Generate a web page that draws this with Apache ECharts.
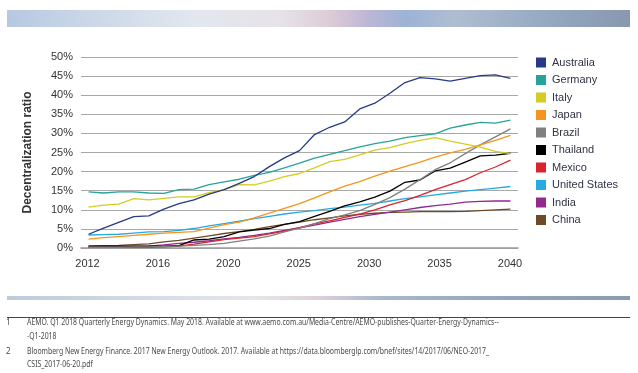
<!DOCTYPE html>
<html>
<head>
<meta charset="utf-8">
<script src="https://cdn.jsdelivr.net/npm/echarts@6/dist/echarts.min.js"></script>
<style>
html,body{margin:0;padding:0;background:#fff;}
#c{width:638px;height:373px;}
</style>
</head>
<body>
<div id="c"></div>
<script>
const years = [];
for (let y = 2012; y <= 2040; y++) years.push(String(y));
const xTickLabels = ["2012", "2016", "2020", "2025", "2030", "2035", "2040"];
const yAxisTitle = "Decentralization ratio";

const australia = [3.6,5.2,6.7,8.2,8.4,10.2,11.6,12.6,14.1,15.3,16.9,18.7,21.3,23.6,25.5,29.7,31.6,33.0,36.4,37.9,40.5,43.3,44.6,44.3,43.7,44.4,45.1,45.3,44.4];
const germany   = [14.7,14.4,14.7,14.7,14.4,14.3,15.3,15.4,16.6,17.3,18.0,19.0,19.8,21.0,22.2,23.5,24.5,25.5,26.5,27.3,28.0,28.9,29.4,29.9,31.4,32.2,32.9,32.7,33.5];
const italy     = [10.7,11.2,11.5,12.9,12.6,13.0,13.4,13.4,14.5,15.3,16.6,16.5,17.5,18.7,19.5,21.0,22.6,23.2,24.4,25.6,26.3,27.3,28.2,28.9,28.0,27.2,26.4,25.3,24.7];
const japan     = [2.3,2.7,3.0,3.3,3.6,3.9,4.1,4.3,5.2,6.1,6.8,7.9,9.1,10.4,11.6,13.1,14.7,16.2,17.4,18.8,20.1,21.3,22.5,23.8,24.9,25.8,27.0,28.2,29.5];
const brazil    = [0.2,0.2,0.2,0.3,0.3,0.4,0.5,0.7,0.9,1.2,1.8,2.4,3.1,4.2,5.2,6.4,7.7,8.7,9.8,11.4,13.2,15.4,17.9,20.5,22.3,24.7,27.0,29.1,31.2];
const thailand  = [0.5,0.5,0.5,0.5,0.5,0.5,0.6,2.1,2.3,3.0,4.2,4.7,5.1,6.2,6.9,8.3,9.6,11.0,12.1,13.3,14.9,17.2,17.8,20.2,20.9,22.5,24.1,24.3,24.8];
const mexico    = [0.2,0.2,0.2,0.2,0.2,0.3,0.5,1.0,1.6,2.2,2.6,3.0,3.7,4.4,5.3,6.3,7.1,8.0,8.9,10.0,11.3,12.4,13.8,15.3,16.6,17.9,19.7,21.2,23.0];
const unitedStates = [3.4,3.5,3.6,3.9,4.2,4.3,4.6,5.1,5.8,6.4,7.0,7.7,8.3,8.9,9.4,9.8,10.3,10.7,11.2,11.7,12.3,12.9,13.4,13.9,14.4,14.9,15.3,15.7,16.1];
const india     = [0.2,0.2,0.3,0.4,0.5,0.8,1.2,1.5,1.9,2.4,2.8,3.3,3.9,4.6,5.3,6.0,6.8,7.5,8.2,8.8,9.4,10.0,10.6,11.1,11.5,12.0,12.2,12.3,12.3];
const china     = [0.5,0.6,0.7,0.9,1.1,1.6,2.0,2.6,3.2,3.8,4.3,4.9,5.6,6.2,6.8,7.4,7.9,8.4,8.8,9.1,9.3,9.4,9.5,9.5,9.5,9.6,9.8,10.0,10.2];

const seriesNames = ["Australia","Germany","Italy","Japan","Brazil","Thailand","Mexico","United States","India","China"];
const seriesData = [australia,germany,italy,japan,brazil,thailand,mexico,unitedStates,india,china];
const seriesColors = ["#263a86","#27a398","#d3cc25","#f7941d","#808080","#000000","#d7252f","#27a9e1","#922a8e","#6e4a27"];

const footnotes = [
  ["1", "AEMO. Q1 2018 Quarterly Energy Dynamics. May 2018. Available at www.aemo.com.au/Media-Centre/AEMO-publishes-Quarter-Energy-Dynamics--", "-Q1-2018"],
  ["2", "Bloomberg New Energy Finance. 2017 New Energy Outlook. 2017. Available at https://data.bloomberglp.com/bnef/sites/14/2017/06/NEO-2017_", "CSIS_2017-06-20.pdf"]
];

const chart = echarts.init(document.getElementById('c'), null, {renderer: 'canvas'});

const series = seriesNames.map((n, i) => ({
  name: n,
  type: 'line',
  xAxisIndex: 0,
  yAxisIndex: 0,
  data: seriesData[i],
  symbol: 'none',
  smooth: false,
  lineStyle: {width: 1.3, color: seriesColors[i]},
  itemStyle: {color: seriesColors[i]},
  z: 10 - i
}));
series.push({
  type: 'line', xAxisIndex: 1, yAxisIndex: 1,
  data: [], silent: true, symbol: 'none'
});

const footFont = '8px "Noto Sans"';
const footScale = 0.86;
const footGraphics = [];
const footY = [322.5, 351.5];
footnotes.forEach((f, k) => {
  footGraphics.push({type:'text', x: 6, y: footY[k], style:{text: f[0], font: footFont, fill:'#4a4a4a', textVerticalAlign:'middle'}});
  footGraphics.push({type:'text', x: 27, y: footY[k], scaleX: footScale, style:{text: f[1], font: footFont, fill:'#4a4a4a', textVerticalAlign:'middle'}});
  footGraphics.push({type:'text', x: 27, y: footY[k] + 14 - k, scaleX: footScale, style:{text: f[2], font: footFont, fill:'#4a4a4a', textVerticalAlign:'middle'}});
});

const bandTop = {
  type: 'linear', x: 0, y: 0, x2: 1, y2: 0,
  colorStops: [
    {offset: 0, color: '#b6c8e0'},
    {offset: 0.12, color: '#c9d6e7'},
    {offset: 0.3, color: '#e2e7ee'},
    {offset: 0.44, color: '#e6e2e8'},
    {offset: 0.52, color: '#dccbd6'},
    {offset: 0.58, color: '#bdb6d6'},
    {offset: 0.64, color: '#9cb3d6'},
    {offset: 0.72, color: '#afbdd0'},
    {offset: 0.85, color: '#98abc3'},
    {offset: 1, color: '#8798af'}
  ]
};
const bandBottom = {
  type: 'linear', x: 0, y: 0, x2: 1, y2: 0,
  colorStops: [
    {offset: 0, color: '#bccada'},
    {offset: 0.25, color: '#d6dde7'},
    {offset: 0.4, color: '#e6e6ea'},
    {offset: 0.5, color: '#ddd0d8'},
    {offset: 0.6, color: '#a9b8cf'},
    {offset: 0.8, color: '#93a6bd'},
    {offset: 1, color: '#8a9cb2'}
  ]
};

chart.setOption({
  animation: false,
  backgroundColor: '#fff',
  textStyle: {fontFamily: '"Liberation Sans", Arial, sans-serif'},
  grid: [
    {left: 81, right: 120, top: 57, bottom: 125},
    {left: 87.5, right: 128, top: 57, bottom: 125}
  ],
  xAxis: [
    {
      type: 'category', gridIndex: 0, data: years, boundaryGap: true,
      axisLine: {show: true, lineStyle: {color: '#9a9a9a', width: 1.5}},
      axisTick: {show: false}, axisLabel: {show: false}, splitLine: {show: false}
    },
    {
      type: 'category', gridIndex: 1, data: xTickLabels, boundaryGap: false,
      axisLine: {show: false}, axisTick: {show: false}, splitLine: {show: false},
      axisLabel: {show: true, interval: 0, margin: 10, fontSize: 11, color: '#333',
        fontFamily: '"Liberation Sans", Arial, sans-serif'}
    }
  ],
  yAxis: [
    {
      type: 'value', gridIndex: 0, min: 0, max: 50, interval: 5,
      name: yAxisTitle, nameLocation: 'middle', nameRotate: 90, nameGap: 47,
      nameTextStyle: {fontSize: 12, fontWeight: 'bold', color: '#333',
        fontFamily: '"Liberation Sans", Arial, sans-serif'},
      axisLine: {show: false}, axisTick: {show: false},
      axisLabel: {formatter: v => v + '%', fontSize: 11, color: '#333', margin: 8,
        fontFamily: '"Liberation Sans", Arial, sans-serif'},
      splitLine: {show: true, lineStyle: {color: '#a8a8a8', width: 1.2}}
    },
    {
      type: 'value', gridIndex: 1, min: 0, max: 50, show: false
    }
  ],
  legend: {
    orient: 'vertical', left: 531, top: 52,
    itemWidth: 10, itemHeight: 10, itemGap: 6.5,
    icon: 'rect',
    data: seriesNames,
    textStyle: {fontSize: 11, color: '#2f3344', padding: [0,0,0,1],
      fontFamily: '"Liberation Sans", Arial, sans-serif'},
    selectedMode: false
  },
  series: series,
  graphic: [
    {type: 'rect', shape: {x: 7, y: 10, width: 623, height: 17}, style: {fill: bandTop}, silent: true},
    {type: 'rect', shape: {x: 7, y: 296, width: 623, height: 4}, style: {fill: bandBottom}, silent: true},
    {type: 'rect', shape: {x: 7, y: 317, width: 623, height: 1}, style: {fill: '#444'}, silent: true}
  ].concat(footGraphics)
});
</script>
</body>
</html>
